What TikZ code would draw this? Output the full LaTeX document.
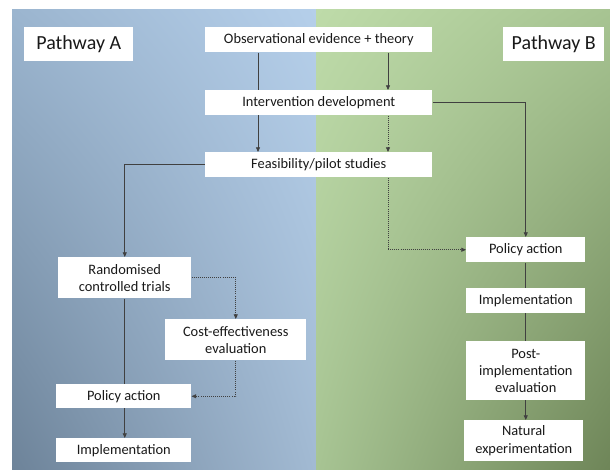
\documentclass[tikz,border=0pt]{standalone}
\usepackage{fontspec}
\setmainfont{Carlito}
\usetikzlibrary{arrows.meta,shadings}
\pgfdeclarelayer{panel}
\pgfdeclarelayer{link}
\pgfsetlayers{panel,link,main}
\tikzset{
  stage/.style={fill=white, align=center, inner sep=0pt, anchor=north west, text=black!90, font=\fontsize{10.8}{13}\selectfont},
  head/.style={stage, font=\fontsize{15}{18}\selectfont},
  boxsize/.style 2 args={minimum width=#1*0.75pt, minimum height=#2*0.75pt},
  link/.style={draw=black!75, line width=0.55pt, -{Triangle[length=3.5pt,width=3pt]}},
  dlink/.style={link, densely dotted},
}
\begin{document}
\begin{tikzpicture}[x=0.75pt, y=-0.75pt]
\useasboundingbox (0,0) rectangle (610,470);
\definecolor{blueUL}{HTML}{9BB5CF}
\definecolor{blueUR}{HTML}{B5CFEA}
\definecolor{blueLL}{HTML}{6D8399}
\definecolor{blueLR}{HTML}{A2BAD3}
\definecolor{greenUL}{HTML}{BEDBA9}
\definecolor{greenUR}{HTML}{A7C492}
\definecolor{greenLL}{HTML}{A7C493}
\definecolor{greenLR}{HTML}{6E8558}
\begin{pgfonlayer}{panel}
\shade[upper left=blueUL, upper right=blueUR, lower left=blueLL, lower right=blueLR] (12,10) rectangle (316,470);
\shade[upper left=greenUL, upper right=greenUR, lower left=greenLL, lower right=greenLR] (316,10) rectangle (610,470);
\end{pgfonlayer}
\node[head, boxsize={109}{34}] (pathA) at (24,27) {Pathway A};
\node[head, boxsize={101}{34}] (pathB) at (503,27) {Pathway B};
\node[stage, boxsize={227}{25}] (obs) at (205,27) {Observational evidence + theory};
\node[stage, boxsize={227}{25}] (interv) at (205,90) {Intervention development};
\node[stage, boxsize={227}{25}] (feas) at (205,152) {Feasibility/pilot studies};
\node[stage, boxsize={133}{41}] (rct) at (58,257) {Randomised\\controlled trials};
\node[stage, boxsize={141}{41}] (cost) at (165,319) {Cost-effectiveness\\evaluation};
\node[stage, boxsize={135}{24}] (polA) at (56,384) {Policy action};
\node[stage, boxsize={135}{24}] (implA) at (56,438) {Implementation};
\node[stage, boxsize={119}{25}] (polB) at (466,237) {Policy action};
\node[stage, boxsize={119}{25}] (implB) at (466,288) {Implementation};
\node[stage, boxsize={119}{59}] (post) at (466,341) {Post-\\implementation\\evaluation};
\node[stage, boxsize={119}{41}] (nat) at (464,420) {Natural\\experimentation};
\coordinate (xa) at (258,0);
\coordinate (xb) at (388,0);
\begin{pgfonlayer}{link}
\draw[link] (obs.south -| xa) -- (feas.north -| xa);
\draw[link] (obs.south -| xb) -- (interv.north -| xb);
\draw[dlink] (interv.south -| xb) -- (feas.north -| xb);
\draw[dlink] (feas.south -| xb) |- (polB.west);
\draw[link] (interv.east) -| (polB.north);
\draw[link] (feas.west) -| (rct.north);
\draw[dlink] (rct.east) -| (cost.north);
\draw[dlink] (cost.south) |- (polA.east);
\draw[link] (rct.south) -- (rct.south |- implA.north);
\draw[link] (polB.south) -- (polB.south |- nat.north);
\end{pgfonlayer}
\end{tikzpicture}
\end{document}
